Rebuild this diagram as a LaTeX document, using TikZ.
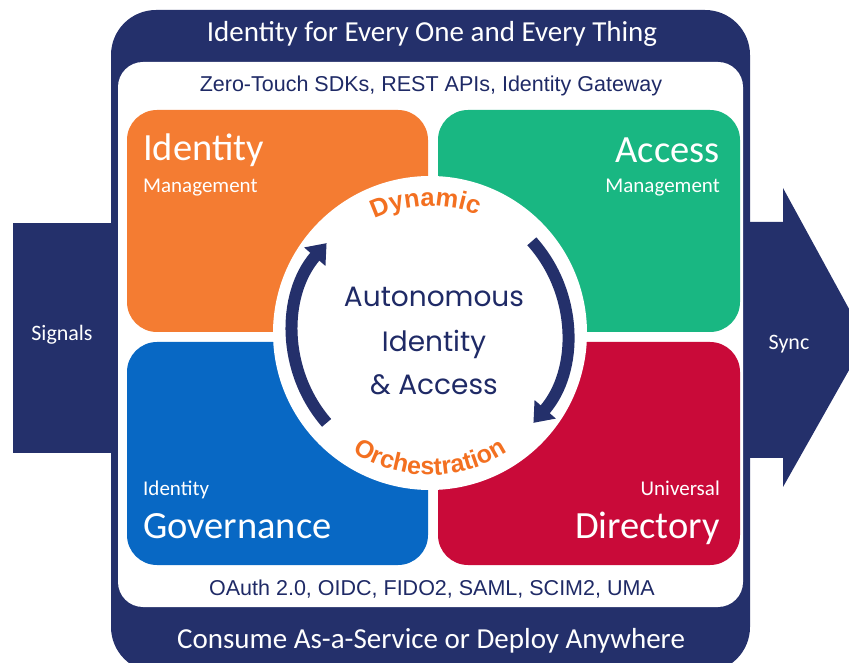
\documentclass[tikz,border=0pt]{standalone}
\usepackage{fontspec}
\setmainfont{Carlito}
\newfontfamily\arialf{Liberation Sans}
\newfontfamily\roundf{Poppins}
\usetikzlibrary{arrows.meta,decorations.text}
\definecolor{navy}{RGB}{36,48,107}
\definecolor{inkblue}{RGB}{31,42,102}
\definecolor{idorange}{RGB}{244,124,50}
\definecolor{acgreen}{RGB}{25,183,130}
\definecolor{govblue}{RGB}{8,104,196}
\definecolor{dirred}{RGB}{201,10,57}
\definecolor{dynorange}{RGB}{243,112,33}
\newcommand{\fs}[1]{\fontsize{#1}{#1}\selectfont}

\begin{document}
\begin{tikzpicture}[x=1pt,y=1pt,every node/.style={inner sep=0pt},
  bigword/.style={font=\fs{38.5},text=white},
  smallword/.style={font=\fs{21},text=white},
  band/.style={font=\fs{29},text=white,anchor=base},
  proto/.style={font=\arialf\fs{21.5},text=inkblue,anchor=base},
  core/.style={font=\roundf\fs{28},text=inkblue,anchor=base},
  cyc/.style={line width=12pt,navy,-{Triangle[width=27pt,length=18pt]}}]

\useasboundingbox(0,0)rectangle(849,662);
\clip(0,0)rectangle(849,662);

\fill[navy](13,209)rectangle(113,439);
\fill[navy](749,204)--(749,440)--(783,440)--(783,474)--(866,322)--(783,175)--(783,204)--cycle;
\fill[navy,rounded corners=45](111,-10)rectangle(750,652);
\fill[white,rounded corners=25](118,55)rectangle(743,600);

\fill[idorange,rounded corners=30](127,330)rectangle(428,552);
\fill[acgreen,rounded corners=30](438,330)rectangle(740,552);
\fill[govblue,rounded corners=30](127,97)rectangle(428,320);
\fill[dirred,rounded corners=30](438,97)rectangle(740,320);

\node[font=\fs{22},text=white](sig)at(62,327){Signals};
\node[font=\fs{22},text=white](sync)at(789,318){Sync};

\node[band](top)at(432,620){Identity for Every One and Every Thing};
\node[proto](sdk)at(431,570){Zero-Touch SDKs, REST APIs, Identity Gateway};
\node[proto](std)at(432,67){OAuth 2.0, OIDC, FIDO2, SAML, SCIM2, UMA};
\node[band](dep)at(431,14){Consume As-a-Service or Deploy Anywhere};

\node[bigword,anchor=base west](idm)at(143,501){Identity};
\node[smallword,anchor=base west](idm2)at(143,469){Management};
\node[bigword,anchor=base east](acm)at(720,499){Access};
\node[smallword,anchor=base east](acm2)at(720,469){Management};
\node[smallword,anchor=base west](gov2)at(143,167){Identity};
\node[bigword,anchor=base west](gov)at(143,124){Governance};
\node[smallword,anchor=base east](dir2)at(720,167){Universal};
\node[bigword,anchor=base east](dir)at(720,124){Directory};

\node[circle,fill=white,minimum size=314pt](ring)at(430,329){};
\node[core](auto)at(434,355){Autonomous};
\node[core](ident)at(434,310){Identity};
\node[core](acc)at(434,267){\& Access};

\draw[cyc]([shift={(221:137)}]ring.center)arc[start angle=221,end angle=139,radius=137];
\draw[cyc]([shift={(42:137)}]ring.center)arc[start angle=42,end angle=-41,radius=137];

\path[decorate,decoration={text along path,text align=center,
  text={|\arialf\bfseries\fs{25.5}\color{dynorange}|Dynamic}}]
  ([shift={(160:127)}]ring.center)arc[start angle=160,end angle=24,radius=127];
\path[decorate,decoration={text along path,text align=center,
  text={|\arialf\bfseries\fs{25}\color{dynorange}|Orchestration}}]
  ([shift={(205:142)}]ring.center)arc[start angle=205,end angle=335,radius=142];

\end{tikzpicture}
\end{document}
